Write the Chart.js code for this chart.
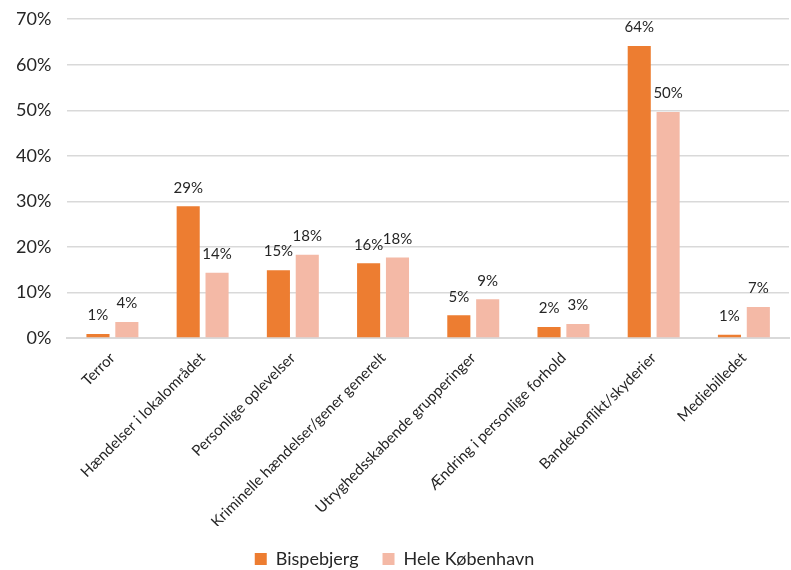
<!DOCTYPE html>
<html>
<head>
<meta charset="utf-8">
<script src="https://cdn.jsdelivr.net/npm/chart.js@4"></script>
<style>
  html, body { margin: 0; padding: 0; background: #fff; }
  #wrap { width: 791px; height: 570px; }
</style>
</head>
<body>
<div id="wrap"><canvas id="chart"></canvas></div>
<script>
// Categories and values (percent)
const categories = [
    'Terror',
    'Hændelser i lokalområdet',
    'Personlige oplevelser',
    'Kriminelle hændelser/gener generelt',
    'Utryghedsskabende grupperinger',
    'Ændring i personlige forhold',
    'Bandekonflikt/skyderier',
    'Mediebilledet'
];
const bispebjerg = [0.9, 28.9, 14.9, 16.4, 5.0, 2.4, 64.1, 0.7];
const heleKbh = [3.5, 14.3, 18.3, 17.7, 8.5, 3.1, 49.6, 6.8];
const yTicks = [0, 10, 20, 30, 40, 50, 60, 70];

const FONT = 'Lato, "DejaVu Sans", sans-serif';

// Small inline plugin for the value labels above bars
const valueLabels = {
    id: 'valueLabels',
    afterDatasetsDraw(chart) {
        const ctx = chart.ctx;
        ctx.save();
        ctx.font = '15px ' + FONT;
        ctx.fillStyle = '#262626';
        ctx.textAlign = 'center';
        ctx.textBaseline = 'bottom';
        chart.data.datasets.forEach((ds, i) => {
            chart.getDatasetMeta(i).data.forEach((bar, j) => {
                ctx.fillText(Math.round(ds.data[j]) + '%', bar.x, bar.y - 11);
            });
        });
        ctx.restore();
    }
};

new Chart(document.getElementById('chart').getContext('2d'), {
    type: 'bar',
    data: {
        labels: categories,
        datasets: [
            {
                label: 'Bispebjerg',
                data: bispebjerg,
                backgroundColor: '#ed7d31',
                categoryPercentage: 0.64,
                barPercentage: 0.8
            },
            {
                label: 'Hele København',
                data: heleKbh,
                backgroundColor: '#f4b9a6',
                categoryPercentage: 0.64,
                barPercentage: 0.8
            }
        ]
    },
    options: {
        responsive: true,
        maintainAspectRatio: false,
        animation: false,
        layout: { padding: { top: 0, right: 2, left: 0, bottom: -8 } },
        plugins: {
            legend: {
                position: 'bottom',
                labels: {
                    font: { family: FONT, size: 18 },
                    color: '#262626',
                    boxWidth: 12,
                    boxHeight: 12,
                    padding: 24
                }
            },
            tooltip: { enabled: false }
        },
        scales: {
            x: {
                grid: { display: false },
                border: { color: '#d9d9d9', width: 2 },
                afterFit(scale) {
                    scale.height = 188;
                },
                ticks: {
                    font: { family: FONT, size: 15 },
                    color: '#262626',
                    minRotation: 45,
                    maxRotation: 45,
                    autoSkip: false
                }
            },
            y: {
                min: 0,
                max: 70,
                afterBuildTicks(axis) {
                    axis.ticks = yTicks.map(v => ({ value: v }));
                },
                grid: { color: '#d9d9d9', lineWidth: 1.5, drawTicks: false },
                border: { display: false },
                ticks: {
                    font: { family: FONT, size: 18, lineHeight: 0.35 },
                    color: '#262626',
                    padding: 16,
                    callback: v => v + '%'
                }
            }
        }
    },
    plugins: [valueLabels]
});
</script>
</body>
</html>
